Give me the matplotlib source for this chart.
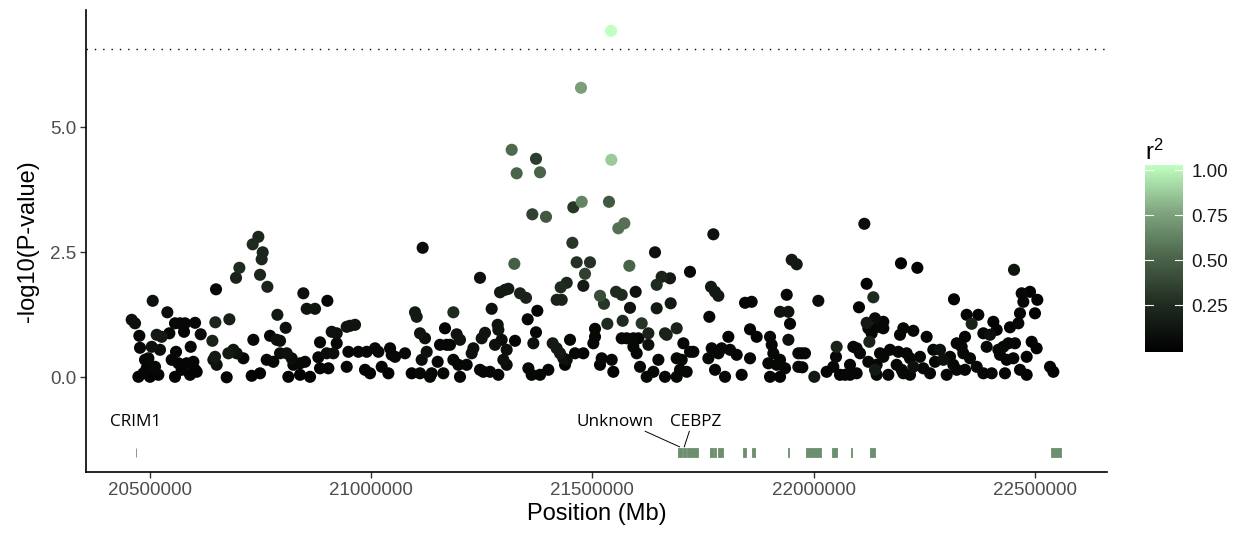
import numpy as np
import matplotlib
matplotlib.use("Agg")
import matplotlib.pyplot as plt
from matplotlib.colors import LinearSegmentedColormap, Normalize

plt.rcParams["font.family"] = ["Liberation Sans", "DejaVu Sans"]

# ---------------- data ----------------
# SNP position (kb), -log10(P) and LD r^2 with the lead SNP
snp_kb = [
    20458.6, 20466.1, 20475.9, 20477.4, 20473.7, 20485.0, 20492.5, 20496.3, 20488.7, 20506.1,
    20515.1, 20526.4, 20522.6, 20503.8, 20511.3, 20518.9, 20500.0, 20539.2, 20543.7, 20556.5,
    20567.9, 20579.1, 20576.9, 20601.8, 20614.6, 20592.0, 20558.8, 20549.0, 20564.1, 20556.5,
    20571.6, 20582.9, 20598.0, 20601.8, 20590.5, 20605.5, 20641.0, 20647.7, 20649.2, 20679.4,
    20647.0, 20643.2, 20650.7, 20673.3, 20677.1, 20688.4, 20695.9, 20711.0, 20694.4, 20702.0,
    20732.1, 20744.9, 20754.7, 20752.4, 20748.7, 20765.3, 20733.6, 20729.8, 20748.7, 20771.3,
    20786.4, 20793.9, 20787.9, 20806.7, 20763.8, 20778.8, 20793.9, 20809.0, 20820.3, 20812.7,
    20839.1, 20861.7, 20824.0, 20839.1, 20850.4, 20846.6, 20854.2, 20873.0, 20900.9, 20884.3,
    20880.5, 20884.3, 20903.2, 20899.4, 20914.5, 20910.7, 20922.0, 20922.0, 20944.6, 20952.1,
    20963.4, 20948.4, 20971.0, 20944.6, 20986.0, 20997.3, 21008.6, 20989.8, 21016.2, 21023.7,
    21042.6, 21046.3, 21053.9, 21038.8,
    21076.4, 21099.0, 21102.8, 21116.3, 21110.3, 21121.6, 21125.4, 21114.1, 21091.5, 21110.3,
    21132.9, 21136.7, 21150.2, 21163.1, 21155.5, 21170.6, 21178.1, 21166.8, 21185.7, 21193.2,
    21200.7, 21185.7, 21197.0, 21200.7, 21215.8, 21227.1, 21230.9, 21245.9, 21257.2, 21249.7,
    21245.9, 21253.5, 21268.5, 21287.4, 21272.3, 21285.9, 21287.4, 21279.8, 21294.9, 21306.2,
    21298.7, 21306.2, 21291.2, 21302.5, 21310.0, 21323.5, 21317.5, 21328.8, 21336.4, 21349.9,
    21325.1, 21353.7, 21375.5, 21372.5, 21366.5, 21355.2, 21362.7, 21381.6, 21400.4, 21364.2,
    21395.1, 21372.5, 21381.6, 21410.2, 21419.2, 21426.8, 21434.3, 21441.9, 21449.4, 21460.7,
    21479.5, 21438.1, 21419.2, 21430.6, 21428.3, 21441.9, 21454.7, 21456.9, 21464.4, 21494.6,
    21483.3, 21479.5, 21475.8, 21474.2, 21505.9, 21505.9, 21502.1, 21517.2, 21521.0, 21543.6,
    21547.3, 21517.2, 21526.2, 21533.8, 21537.5, 21542.1, 21542.8, 21558.6, 21572.2, 21553.4,
    21566.2, 21568.4, 21566.2, 21577.5, 21592.6, 21583.5, 21597.8, 21585.0, 21611.4, 21603.8,
    21626.5, 21626.5, 21592.6, 21600.1, 21607.6, 21622.7, 21637.8, 21649.1, 21664.1, 21641.5,
    21645.3, 21656.6, 21675.4, 21645.3, 21676.9, 21664.1, 21667.9, 21690.5, 21720.6, 21705.6,
    21720.6, 21728.2, 21690.5, 21701.8, 21698.0, 21713.1, 21690.5, 21773.4, 21764.3, 21768.1,
    21777.2, 21784.7, 21769.6, 21762.1, 21784.7, 21792.2, 21811.1, 21826.1, 21807.3, 21777.2,
    21799.8, 21837.4, 21845.0, 21860.0, 21856.3, 21871.3, 21856.3, 21901.5, 21905.3, 21909.0,
    21924.1, 21897.7, 21916.6, 21935.4, 21901.5, 21924.1, 21939.2, 21924.1, 21943.0, 21946.7,
    21943.0, 21950.5, 21961.8, 21965.5, 21965.5,
    21973.0, 21980.5, 21974.5, 22001.6, 22010.7, 22029.5, 22044.6, 22052.1, 22050.6, 22059.6,
    22071.0, 22082.3, 22089.8, 22097.3, 22104.9, 22082.3, 22097.3, 22114.7, 22119.9, 22135.0,
    22102.6, 22119.9, 22138.8, 22157.6, 22123.7, 22131.2, 22146.3, 22157.6, 22126.0, 22123.7,
    22142.5, 22138.8, 22150.1, 22157.6, 22142.5, 22168.9, 22197.5, 22234.5, 22195.3, 22202.8,
    22225.4, 22255.5, 22172.7, 22191.5, 22210.3, 22217.9, 22240.5, 22187.7, 22199.0, 22225.4,
    22248.0, 22202.8, 22217.9, 22263.1, 22270.6, 22285.7, 22274.4, 22293.2, 22308.3, 22315.8,
    22300.8, 22323.4, 22317.3, 22323.4, 22334.7, 22342.2, 22346.0, 22372.3, 22357.3, 22338.4,
    22353.5, 22342.2, 22368.6, 22383.7, 22402.5, 22383.7, 22398.7, 22391.2, 22406.3, 22413.8,
    22443.9, 22453.0, 22466.5, 22474.1, 22470.3, 22489.2, 22505.7, 22500.4, 22462.8, 22417.6,
    22428.9, 22440.2, 22455.2, 22421.3, 22436.4, 22451.5, 22432.6, 22466.5, 22481.6, 22492.9,
    22504.2, 22481.6, 22534.4, 22541.9,
]
neg_log10_p = [
    1.15, 1.08, 0.83, 0.59, 0.01, 0.08, 0.18, 0.38, 0.35, 1.53,
    0.85, 0.81, 0.55, 0.61, 0.21, 0.05, 0.01, 1.30, 0.88, 1.08,
    1.08, 1.08, 0.91, 1.09, 0.86, 0.61, 0.51, 0.35, 0.28, 0.01,
    0.15, 0.28, 0.31, 0.15, 0.05, 0.11, 0.73, 1.10, 1.76, 1.16,
    0.41, 0.35, 0.25, 0.00, 0.48, 0.55, 0.48, 0.38, 1.99, 2.19,
    2.66, 2.81, 2.50, 2.36, 2.05, 1.81, 0.75, 0.03, 0.08, 0.83,
    0.75, 0.73, 1.25, 0.99, 0.35, 0.31, 0.48, 0.48, 0.38, 0.01,
    0.05, 0.01, 0.25, 0.28, 0.31, 1.68, 1.37, 1.37, 1.53, 0.70,
    0.40, 0.18, 0.18, 0.48, 0.48, 0.91, 0.88, 0.68, 1.01, 1.03,
    1.05, 0.51, 0.51, 0.21, 0.15, 0.08, 0.58, 0.51, 0.51, 0.21,
    0.58, 0.45, 0.41, 0.08,
    0.48, 1.30, 1.21, 2.59, 0.88, 0.78, 0.51, 0.35, 0.08, 0.08,
    0.01, 0.08, 0.31, 0.08, 0.65, 0.65, 0.65, 0.98, 1.30, 0.86,
    0.75, 0.35, 0.25, 0.01, 0.25, 0.48, 0.58, 1.99, 0.89, 0.78,
    0.15, 0.11, 0.11, 0.05, 1.37, 1.05, 0.95, 0.65, 0.75, 0.55,
    0.35, 0.25, 1.70, 1.75, 1.77, 2.27, 4.55, 4.08, 1.68, 1.59,
    0.73, 1.16, 1.33, 0.90, 0.68, 0.18, 0.05, 0.05, 0.15, 3.26,
    3.21, 4.37, 4.10, 0.68, 0.58, 0.48, 0.38, 0.35, 0.75, 0.48,
    0.48, 0.25, 1.55, 1.55, 1.80, 1.89, 2.69, 3.40, 2.30, 2.30,
    2.07, 1.83, 3.51, 5.79, 0.97, 0.81, 0.68, 0.25, 0.38, 0.35,
    0.11, 1.63, 1.47, 1.07, 3.51, 6.93, 4.35, 2.98, 3.08, 1.71,
    1.65, 1.13, 0.78, 0.78, 0.78, 2.23, 1.71, 1.39, 1.08, 0.78,
    0.88, 0.65, 0.61, 0.48, 0.21, 0.01, 0.11, 0.35, 0.01, 2.50,
    1.85, 2.01, 1.98, 1.38, 1.48, 0.88, 0.85, 0.98, 2.11, 0.68,
    0.51, 0.51, 0.38, 0.35, 0.15, 0.11, 0.01, 2.86, 1.21, 1.81,
    1.71, 1.63, 0.58, 0.38, 0.48, 0.58, 0.55, 0.45, 0.81, 0.15,
    0.01, 0.05, 1.49, 1.51, 0.96, 0.81, 0.38, 0.81, 0.65, 0.48,
    0.35, 0.28, 0.25, 0.18, 0.01, 0.01, 1.65, 1.31, 1.31, 1.07,
    0.75, 2.35, 2.26, 0.48, 0.21,
    0.48, 0.48, 0.20, 0.01, 1.53, 0.11, 0.21, 0.61, 0.41, 0.05,
    0.05, 0.25, 0.61, 0.58, 0.48, 0.05, 0.08, 3.07, 1.87, 1.60,
    1.40, 1.09, 1.18, 1.11, 0.98, 0.88, 1.01, 0.98, 0.71, 0.31,
    0.25, 0.15, 0.48, 0.41, 0.05, 0.05, 2.28, 2.19, 0.85, 0.98,
    0.93, 0.81, 0.55, 0.51, 0.48, 0.38, 0.41, 0.25, 0.15, 0.21,
    0.18, 0.08, 0.05, 0.08, 0.55, 0.55, 0.31, 0.35, 0.41, 0.25,
    0.05, 0.15, 1.56, 0.68, 0.61, 0.81, 1.25, 1.25, 1.07, 0.48,
    0.38, 0.15, 0.21, 0.08, 0.08, 0.88, 0.85, 0.61, 1.11, 0.95,
    1.00, 2.15, 1.28, 1.51, 1.68, 1.71, 1.55, 1.28, 1.08, 0.55,
    0.61, 0.68, 0.68, 0.45, 0.35, 0.38, 0.08, 0.15, 0.05, 0.71,
    0.58, 0.41, 0.21, 0.11,
]
ld_r2 = [
    0.10, 0.10, 0.05, 0.05, 0.02, 0.03, 0.03, 0.05, 0.04, 0.10,
    0.15, 0.15, 0.08, 0.10, 0.05, 0.03, 0.02, 0.08, 0.05, 0.05,
    0.05, 0.05, 0.03, 0.05, 0.08, 0.05, 0.05, 0.05, 0.03, 0.02,
    0.03, 0.03, 0.03, 0.02, 0.02, 0.02, 0.20, 0.22, 0.05, 0.18,
    0.15, 0.12, 0.10, 0.02, 0.15, 0.12, 0.10, 0.05, 0.20, 0.25,
    0.25, 0.22, 0.22, 0.22, 0.22, 0.20, 0.05, 0.02, 0.02, 0.03,
    0.10, 0.10, 0.15, 0.10, 0.05, 0.05, 0.08, 0.10, 0.08, 0.02,
    0.02, 0.02, 0.05, 0.05, 0.05, 0.10, 0.12, 0.12, 0.05, 0.05,
    0.05, 0.03, 0.03, 0.08, 0.08, 0.10, 0.10, 0.05, 0.12, 0.12,
    0.12, 0.05, 0.05, 0.03, 0.02, 0.02, 0.05, 0.05, 0.05, 0.03,
    0.05, 0.05, 0.05, 0.02,
    0.05, 0.15, 0.15, 0.08, 0.12, 0.10, 0.10, 0.08, 0.02, 0.05,
    0.05, 0.05, 0.03, 0.05, 0.05, 0.05, 0.05, 0.02, 0.25, 0.12,
    0.12, 0.05, 0.05, 0.05, 0.05, 0.10, 0.10, 0.10, 0.12, 0.12,
    0.05, 0.05, 0.05, 0.05, 0.10, 0.12, 0.12, 0.10, 0.08, 0.10,
    0.10, 0.08, 0.15, 0.15, 0.15, 0.48, 0.52, 0.50, 0.20, 0.20,
    0.02, 0.05, 0.02, 0.05, 0.10, 0.05, 0.05, 0.05, 0.05, 0.35,
    0.45, 0.33, 0.50, 0.15, 0.15, 0.15, 0.10, 0.08, 0.05, 0.05,
    0.03, 0.03, 0.20, 0.20, 0.25, 0.22, 0.30, 0.30, 0.28, 0.28,
    0.35, 0.15, 0.62, 0.72, 0.05, 0.05, 0.05, 0.02, 0.05, 0.05,
    0.02, 0.40, 0.30, 0.25, 0.45, 1.00, 0.85, 0.55, 0.55, 0.25,
    0.25, 0.25, 0.05, 0.05, 0.05, 0.50, 0.10, 0.12, 0.30, 0.03,
    0.20, 0.10, 0.05, 0.05, 0.05, 0.05, 0.05, 0.05, 0.05, 0.10,
    0.25, 0.20, 0.15, 0.15, 0.15, 0.20, 0.20, 0.20, 0.05, 0.05,
    0.05, 0.05, 0.05, 0.05, 0.05, 0.05, 0.05, 0.10, 0.05, 0.15,
    0.15, 0.15, 0.05, 0.05, 0.05, 0.05, 0.05, 0.05, 0.02, 0.05,
    0.05, 0.02, 0.05, 0.05, 0.02, 0.02, 0.05, 0.05, 0.05, 0.05,
    0.05, 0.05, 0.05, 0.05, 0.02, 0.02, 0.05, 0.12, 0.12, 0.05,
    0.10, 0.15, 0.15, 0.05, 0.05,
    0.05, 0.05, 0.03, 0.15, 0.08, 0.03, 0.03, 0.20, 0.05, 0.02,
    0.05, 0.05, 0.05, 0.05, 0.05, 0.05, 0.05, 0.08, 0.02, 0.25,
    0.02, 0.15, 0.08, 0.05, 0.05, 0.05, 0.05, 0.05, 0.20, 0.05,
    0.05, 0.15, 0.05, 0.05, 0.05, 0.05, 0.02, 0.02, 0.05, 0.05,
    0.05, 0.02, 0.05, 0.05, 0.05, 0.05, 0.05, 0.05, 0.05, 0.10,
    0.05, 0.05, 0.05, 0.05, 0.05, 0.10, 0.05, 0.10, 0.05, 0.05,
    0.05, 0.05, 0.02, 0.05, 0.05, 0.02, 0.02, 0.02, 0.20, 0.05,
    0.05, 0.05, 0.05, 0.05, 0.05, 0.05, 0.10, 0.05, 0.02, 0.02,
    0.02, 0.12, 0.05, 0.05, 0.05, 0.02, 0.02, 0.02, 0.05, 0.05,
    0.05, 0.05, 0.05, 0.05, 0.05, 0.05, 0.05, 0.05, 0.02, 0.02,
    0.02, 0.02, 0.02, 0.02,
]

# Genes in the region: (start kb, end kb)
gene_start_kb = [20467.2, 21692.4, 21703.7, 21713.8, 21764.7, 21774.9, 21785.0, 21839.5,
                 21859.9, 21941.0, 21982.8, 22042.7, 22083.4, 22127.5, 22535.5]
gene_end_kb = [20469.3, 21701.4, 21711.6, 21739.8, 21772.6, 21780.5, 21796.3, 21847.2,
               21867.5, 21945.5, 22016.7, 22052.9, 22085.7, 22138.8, 22558.1]
# Labelled genes: name, label position (kb), leader line start (kb), gene index
gene_names = ["CRIM1", "Unknown", "CEBPZ"]
gene_label_kb = [20468.0, 21551.0, 21734.0]
leader_start_kb = [None, 21619.4, 21719.1]
gene_label_idx = [0, 1, 2]

sig_threshold = 6.56
x_ticks = [20500000, 21000000, 21500000, 22000000, 22500000]
y_ticks = [0.0, 2.5, 5.0]
cbar_ticks = [0.25, 0.50, 0.75, 1.00]

# ---------------- plot ----------------
pos = np.array(snp_kb) * 1000
logp = np.array(neg_log10_p)
r2 = np.array(ld_r2)
order = np.argsort(r2, kind="stable")

cmap = LinearSegmentedColormap.from_list(
    "ld", ["#000000", "#202b20", "#4a634a", "#80a680", "#c1ffc1"])
norm = Normalize(vmin=0.0, vmax=1.0)

W, H = 1236, 533
fig = plt.figure(figsize=(W / 100, H / 100), dpi=100)
ax = fig.add_axes([86 / W, 1 - 472 / H, (1107 - 86) / W, (472 - 10) / H])

ax.scatter(pos[order], logp[order], c=r2[order], cmap=cmap, norm=norm,
           s=76, linewidths=0, zorder=3)

ax.axhline(sig_threshold, color="black", lw=1.0, linestyle=(0, (1, 5)), zorder=2)

# gene track
gene_color = "#6e8f6e"
g_lo, g_hi = -1.60, -1.41
for s, e in zip(gene_start_kb, gene_end_kb):
    ax.fill_between([s * 1000, e * 1000], g_lo, g_hi, facecolor=gene_color,
                    edgecolor=gene_color, lw=0.6, zorder=2)

label_y = -0.89
for name, lx, sx, gi in zip(gene_names, gene_label_kb, leader_start_kb, gene_label_idx):
    ax.text(lx * 1000, label_y, name, ha="center", va="center", fontsize=12.3,
            family=["Open Sans", "DejaVu Sans"], color="black", zorder=4)
    if sx is not None:
        gx = (gene_start_kb[gi] + gene_end_kb[gi]) / 2 * 1000
        ax.plot([sx * 1000, gx], [-1.08, g_hi + 0.02], color="black", lw=0.7, zorder=4)

ax.set_xlim(20355300, 22663200)
ax.set_ylim(-1.894, 7.346)
ax.set_xticks(x_ticks)
ax.set_xticklabels([str(t) for t in x_ticks])
ax.set_yticks(y_ticks)
ax.set_yticklabels([f"{t:.1f}" for t in y_ticks])

for side in ("top", "right"):
    ax.spines[side].set_visible(False)
for side in ("left", "bottom"):
    ax.spines[side].set_linewidth(1.2)
    ax.spines[side].set_color("black")
ax.tick_params(axis="both", length=4, width=1.0, color="#333333",
               labelsize=13.5, labelcolor="#4d4d4d", pad=3)

ax.set_xlabel("Position (Mb)", fontsize=17, labelpad=3)
ax.set_ylabel("-log10(P-value)", fontsize=17, labelpad=8)

# colour bar
cax = fig.add_axes([1145 / W, 1 - 352 / H, 38 / W, 187 / H])
grad = np.linspace(0, 1, 256).reshape(-1, 1)
cax.imshow(grad, aspect="auto", cmap=cmap, norm=norm, origin="lower",
           extent=[0, 1, -0.01, 1.03])
cax.set_xlim(0, 1)
cax.set_ylim(-0.01, 1.03)
for t in cbar_ticks:
    cax.plot([0, 0.2], [t, t], color="white", lw=0.8)
    cax.plot([0.8, 1], [t, t], color="white", lw=0.8)
cax.set_xticks([])
cax.yaxis.tick_right()
cax.set_yticks(cbar_ticks)
cax.set_yticklabels([f"{t:.2f}" for t in cbar_ticks])
cax.tick_params(axis="y", length=0, labelsize=13.5, labelcolor="#1a1a1a", pad=6)
for sp in cax.spines.values():
    sp.set_visible(False)
fig.text(1145 / W, 1 - 160 / H, r"$\mathregular{r^2}$", fontsize=17,
         ha="left", va="baseline")

fig.savefig("out.png", dpi=100)
